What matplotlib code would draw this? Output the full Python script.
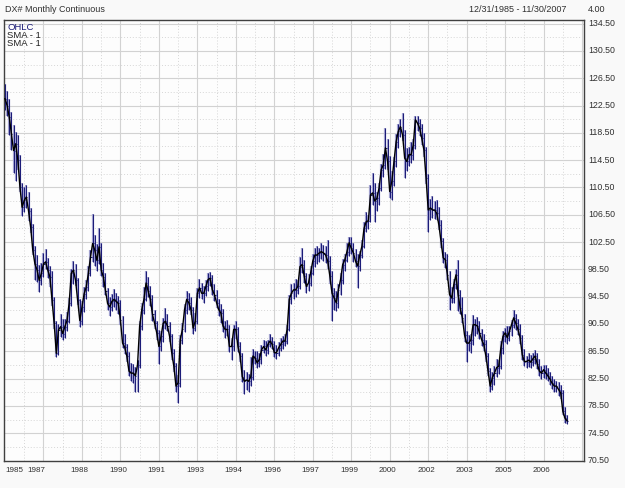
import matplotlib
matplotlib.use("Agg")
import matplotlib.pyplot as plt
import numpy as np

# Monthly bars, 12/1985 .. 11/2007
closes = [
    123.5, 122.5, 120.8, 118.4, 115.9, 116.9, 114.5, 110.5, 107.6, 108.6, 109.1, 107.1,
    104.7, 101.3, 99.3, 98.4, 96.9, 97.9, 99.3, 99.6, 98.4, 97.4, 94.0, 90.6,
    86.2, 89.6, 90.1, 89.1, 90.1, 91.0, 93.5, 97.9, 98.4, 96.9, 94.0, 91.0,
    93.0, 94.9, 95.9, 97.9, 100.3, 102.3, 101.3, 99.8, 101.8, 98.4, 97.4, 95.4,
    93.5, 93.0, 93.8, 94.1, 93.8, 93.5, 91.1, 87.7, 87.1, 85.8, 83.6, 83.3,
    83.3, 82.9, 84.5, 90.2, 92.6, 94.1, 96.5, 95.3, 94.1, 91.9, 90.6, 89.2,
    87.2, 88.7, 90.6, 90.9, 90.2, 88.7, 86.3, 84.3, 81.4, 81.9, 88.2, 89.7,
    92.6, 94.1, 93.6, 92.6, 89.9, 90.9, 95.0, 95.8, 95.0, 95.0, 96.0, 97.0,
    97.2, 95.5, 94.8, 93.6, 92.6, 92.1, 90.2, 89.7, 89.7, 87.2, 87.2, 89.7,
    89.7, 87.2, 85.8, 82.8, 82.1, 82.3, 82.1, 82.8, 85.8, 85.5, 84.8, 85.3,
    86.7, 87.2, 86.7, 87.5, 88.0, 87.5, 86.3, 86.3, 87.0, 87.5, 88.0, 88.0,
    89.7, 94.1, 95.0, 95.5, 95.5, 96.0, 98.9, 99.2, 97.5, 96.0, 96.5, 98.0,
    99.7, 100.6, 100.6, 100.9, 101.1, 100.9, 100.6, 99.7, 97.5, 95.0, 94.3, 93.6,
    95.5, 97.0, 99.2, 99.9, 101.1, 102.4, 101.6, 100.9, 99.7, 99.0, 100.6, 101.9,
    104.5, 105.5, 105.6, 109.4, 109.7, 108.5, 108.9, 110.4, 113.1, 113.8, 116.3, 114.3,
    109.9, 111.4, 114.3, 117.2, 118.7, 119.4, 118.2, 114.8, 114.3, 115.3, 115.3, 116.7,
    120.4, 119.9, 119.2, 117.7, 116.0, 111.9, 107.2, 107.5, 107.2, 107.2, 106.7, 105.0,
    102.6, 100.2, 99.9, 97.7, 94.8, 94.3, 96.3, 97.7, 94.8, 92.8, 91.4, 88.9,
    87.7, 87.7, 88.2, 90.4, 90.4, 90.2, 89.2, 88.2, 87.5, 85.8, 83.6, 81.4,
    82.6, 83.3, 84.1, 84.3, 87.0, 88.7, 89.2, 88.5, 89.4, 90.4, 91.4, 90.6,
    89.7, 88.5, 86.0, 85.0, 85.0, 85.2, 84.9, 85.4, 85.8, 84.7, 83.6, 83.3,
    83.8, 83.3, 82.9, 82.4, 81.8, 81.4, 81.4, 80.9, 80.4, 77.7, 76.7, 76.3,
]
highs = [
    125.6, 124.6, 123.4, 121.6, 119.6, 118.6, 118.2, 115.3, 111.2, 110.6, 110.8, 109.8,
    107.5, 105.2, 101.9, 100.6, 99.1, 99.5, 100.9, 101.5, 100.2, 99.0, 98.2, 94.4,
    91.0, 90.5, 92.0, 91.2, 91.2, 92.2, 94.3, 98.6, 99.7, 99.3, 97.3, 94.2,
    93.9, 95.9, 96.9, 99.0, 101.4, 106.6, 103.6, 102.2, 104.5, 102.4, 99.4, 97.9,
    95.8, 94.4, 94.9, 95.6, 95.1, 94.6, 94.0, 91.6, 89.1, 87.6, 86.4, 84.8,
    84.6, 84.2, 85.2, 90.9, 93.5, 95.9, 98.2, 97.4, 96.0, 94.7, 92.6, 91.0,
    89.6, 89.5, 91.4, 92.8, 92.0, 90.8, 89.0, 86.8, 84.8, 83.0, 88.9, 90.6,
    93.4, 95.3, 95.0, 94.5, 93.0, 92.1, 95.7, 97.1, 96.5, 96.0, 96.9, 97.9,
    98.1, 97.6, 96.3, 95.5, 94.2, 93.4, 92.7, 91.0, 91.1, 90.3, 88.4, 90.4,
    90.9, 90.1, 87.9, 86.3, 83.8, 83.5, 83.2, 85.6, 86.9, 86.6, 86.5, 86.2,
    87.4, 88.1, 88.0, 88.2, 89.0, 88.6, 88.0, 87.4, 87.9, 88.4, 88.8, 89.1,
    90.3, 94.8, 96.3, 96.5, 97.1, 97.0, 100.3, 101.6, 99.9, 98.0, 97.8, 99.0,
    100.8, 101.6, 101.9, 101.7, 102.4, 102.0, 101.9, 102.8, 100.4, 98.2, 95.7, 95.4,
    96.3, 97.9, 100.0, 100.8, 102.3, 103.3, 103.2, 102.3, 101.5, 100.8, 101.2, 102.8,
    105.5, 106.9, 106.5, 110.8, 112.6, 111.1, 109.9, 111.2, 113.9, 115.4, 119.2, 117.6,
    115.1, 112.9, 115.0, 118.3, 119.8, 120.5, 121.4, 118.9, 116.3, 116.4, 117.2, 117.6,
    120.9, 121.0, 120.5, 119.8, 118.5, 116.4, 112.5, 108.8, 109.3, 108.5, 108.6, 107.6,
    105.8, 103.1, 101.1, 100.8, 98.3, 95.9, 97.1, 98.6, 99.9, 95.5, 94.5, 91.9,
    89.4, 88.9, 89.1, 91.8, 91.3, 91.5, 90.9, 89.7, 89.0, 88.1, 86.3, 84.0,
    83.5, 84.4, 85.3, 85.2, 88.0, 89.4, 89.9, 90.2, 90.2, 91.1, 92.6, 92.0,
    91.3, 90.5, 88.9, 86.9, 85.8, 86.2, 86.0, 86.3, 86.7, 86.2, 85.3, 84.4,
    84.5, 84.5, 84.0, 83.5, 82.9, 82.5, 82.1, 82.0, 81.6, 80.9, 78.4, 77.1,
]
lows = [
    121.8, 120.9, 118.2, 116.0, 112.6, 111.4, 113.0, 109.8, 106.3, 106.9, 107.5, 105.6,
    103.8, 100.6, 97.0, 96.6, 95.2, 96.2, 97.4, 98.5, 97.3, 95.9, 93.1, 89.8,
    85.7, 85.9, 88.6, 88.2, 88.4, 89.5, 90.6, 93.2, 96.4, 96.1, 93.3, 90.1,
    90.4, 92.2, 94.1, 95.4, 97.5, 99.6, 99.0, 98.3, 99.3, 97.5, 95.9, 94.7,
    92.6, 91.6, 92.4, 93.0, 92.6, 91.9, 90.4, 87.0, 86.1, 84.9, 82.9, 82.2,
    81.9, 80.6, 80.5, 84.0, 89.6, 92.0, 93.8, 94.4, 93.2, 91.0, 89.8, 88.2,
    84.6, 86.6, 87.9, 89.7, 89.4, 87.9, 85.2, 83.4, 80.6, 78.9, 81.2, 87.6,
    89.3, 91.9, 92.5, 91.8, 89.0, 89.5, 90.5, 94.3, 94.2, 93.6, 94.6, 95.4,
    96.0, 94.7, 93.9, 92.8, 91.7, 90.7, 89.3, 88.4, 88.8, 86.4, 85.2, 86.6,
    88.3, 86.4, 84.9, 82.0, 80.2, 80.9, 80.6, 81.4, 82.3, 84.6, 84.0, 84.2,
    84.7, 86.2, 85.8, 86.1, 87.1, 86.8, 85.6, 85.4, 85.8, 86.5, 86.9, 87.2,
    87.5, 89.4, 93.4, 94.1, 94.5, 94.9, 95.6, 98.0, 96.5, 95.1, 95.3, 96.0,
    97.6, 98.9, 99.3, 99.6, 100.0, 99.7, 99.5, 98.6, 96.4, 90.9, 92.6, 92.4,
    92.8, 94.8, 96.4, 98.3, 99.6, 100.5, 100.8, 99.6, 98.9, 95.8, 98.3, 100.2,
    101.6, 104.0, 104.4, 105.4, 108.0, 105.5, 107.1, 107.9, 110.0, 112.1, 113.2, 113.0,
    109.0, 108.6, 110.7, 113.5, 116.3, 117.9, 117.3, 111.9, 112.9, 113.6, 114.1, 114.5,
    116.2, 118.7, 118.0, 116.7, 115.0, 111.0, 104.0, 105.7, 106.0, 105.9, 105.8, 104.2,
    101.7, 99.4, 98.7, 96.9, 92.6, 93.5, 93.6, 95.6, 92.4, 91.9, 90.6, 87.9,
    85.0, 86.5, 86.2, 87.4, 88.8, 89.1, 88.3, 87.3, 86.5, 85.0, 82.9, 80.6,
    80.9, 81.6, 82.8, 83.2, 83.9, 86.1, 87.9, 87.6, 88.0, 88.7, 89.9, 89.6,
    88.9, 87.6, 85.2, 84.3, 84.0, 84.2, 84.0, 84.3, 84.6, 83.9, 82.9, 82.4,
    82.6, 82.5, 82.1, 81.6, 81.0, 80.5, 80.5, 80.0, 79.5, 77.1, 76.0, 75.9,
]
y_ticks = [70.5, 74.5, 78.5, 82.5, 86.5, 90.5, 94.5, 98.5, 102.5, 106.5,
           110.5, 114.5, 118.5, 122.5, 126.5, 130.5, 134.5]
year_labels = ["1985", "1987", "1988", "1990", "1991", "1993", "1994", "1996",
               "1997", "1999", "2000", "2002", "2003", "2005", "2006"]

FONT = ["Liberation Sans Narrow", "Liberation Sans", "DejaVu Sans"]
plt.rcParams["font.family"] = FONT

W, H = 625, 488
fig = plt.figure(figsize=(W / 100, H / 100), dpi=100)
fig.patch.set_facecolor("#f9f9f9")

left_px, right_px, top_px, bot_px = 4, 584, 19.5, 460.5
ax = fig.add_axes([left_px / W, 1 - bot_px / H, (right_px - left_px) / W,
                   (bot_px - top_px) / H])
ax.set_facecolor("#fdfdfd")
ax.set_xlim(-0.47, 270.9)
ax.set_ylim(70.5, 135.1)

# grid
for v in y_ticks[1:]:
    ax.axhline(v, color="#d2d2d2", lw=0.8, zorder=0)
for v in y_ticks[:-1]:
    ax.axhline(v + 2, color="#d6d6d6", lw=0.7, ls=(0, (1, 2)), zorder=0)
for k in range(1, 16):
    ax.axvline(18 * k, color="#d2d2d2", lw=0.8, zorder=0)
for k in range(0, 16):
    ax.axvline(18 * k + 9, color="#d6d6d6", lw=0.7, ls=(0, (1, 2)), zorder=0)

x = np.arange(len(closes))
ax.vlines(x, lows, highs, color="#a4a4d0", lw=1.6, zorder=2)
ax.vlines(x, lows, highs, color="#1c1c78", lw=0.75, zorder=3)
ax.hlines(closes, x, x + 0.5, color="#1c1c78", lw=0.75, zorder=3)
ax.plot(x, closes, color="black", lw=1.0, zorder=4)

for s in ax.spines.values():
    s.set_color("#404040")
    s.set_linewidth(1.0)
ax.set_xticks([])
ax.set_yticks([])

tc = "#303030"
# y labels on the right
for v in y_ticks:
    ax.text(1.0 + 4 / (right_px - left_px), v, f"{v:.2f}", transform=ax.get_yaxis_transform(),
            ha="left", va="center", fontsize=6.3, color=tc, clip_on=False)
# x labels
for k, lab in enumerate(year_labels):
    i = 18 * k
    if k == 0:
        xi, ha = 0.0, "left"
    elif k == 1:
        xi, ha = 14.8, "center"
    else:
        xi, ha = i - 1, "center"
    ax.text(xi, -0.022, lab, transform=ax.get_xaxis_transform(), ha=ha, va="center",
            fontsize=5.8, color=tc)

# header texts
fig.text(5 / W, 1 - 10 / H, "DX# Monthly Continuous", ha="left", va="center", fontsize=6.5, color=tc)
fig.text(566 / W, 1 - 10 / H, "12/31/1985 - 11/30/2007", ha="right", va="center", fontsize=6.5, color=tc)
fig.text(605 / W, 1 - 10 / H, "4.00", ha="right", va="center", fontsize=6.5, color=tc)

# legend
fig.text(7 / W, 1 - 27 / H, "OHLC", ha="left", va="center", fontsize=6.8, color="#1c1c78")
fig.text(7 / W, 1 - 35 / H, "SMA - 1", ha="left", va="center", fontsize=6.8, color="#202020")
fig.text(7 / W, 1 - 43 / H, "SMA - 1", ha="left", va="center", fontsize=6.8, color="#202020")

fig.savefig("out.png", dpi=100, facecolor=fig.get_facecolor())
